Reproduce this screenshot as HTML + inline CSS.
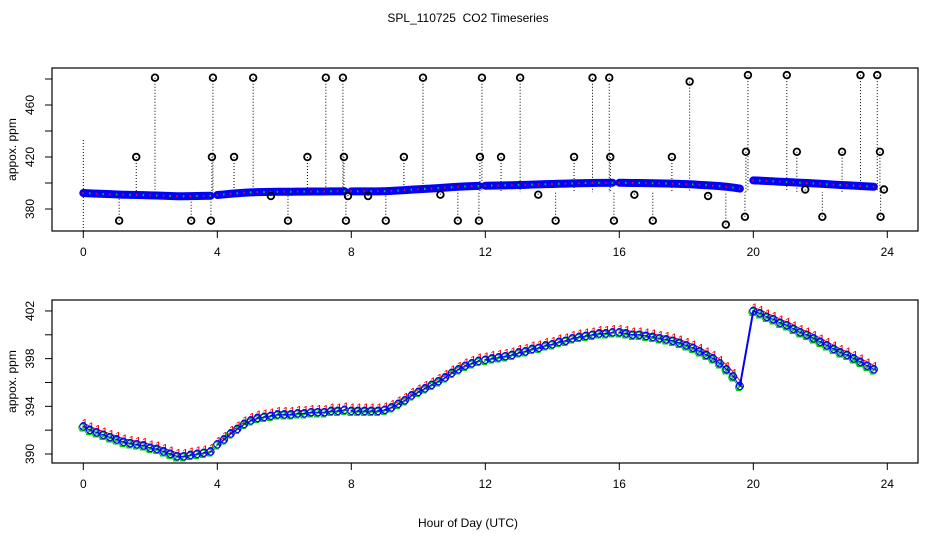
<!DOCTYPE html>
<html><head><meta charset="utf-8"><style>
body{margin:0;background:#fff;}
svg{display:block;font-family:"Liberation Sans",sans-serif;}
</style></head><body>
<svg id="chart" width="936" height="540" viewBox="0 0 936 540" xmlns="http://www.w3.org/2000/svg">
<rect width="936" height="540" fill="#fff"/>
<text x="468" y="22" font-size="12" text-anchor="middle" style="white-space:pre">SPL_110725  CO2 Timeseries</text>
<text x="468" y="527" font-size="12" text-anchor="middle">Hour of Day (UTC)</text>
<g id="topPanel"></g>
<g id="botPanel"></g>
</svg>
<script>
const segTimes = [
 [0,0.2,0.4,0.6,0.8,1,1.2,1.4,1.6,1.8,2,2.2,2.4,2.6,2.8,3,3.2,3.4,3.6,3.8],
 [4,4.2,4.4,4.6,4.8,5,5.2,5.4,5.6,5.8,6,6.2,6.4,6.6,6.8,7,7.2,7.4,7.6,7.8],
 [8,8.2,8.4,8.6,8.8,9,9.2,9.4,9.6,9.8,10,10.2,10.4,10.6,10.8,11,11.2,11.4,11.6,11.8],
 [12,12.2,12.4,12.6,12.8,13,13.2,13.4,13.6,13.8,14,14.2,14.4,14.6,14.8,15,15.2,15.4,15.6,15.8],
 [16,16.2,16.4,16.6,16.8,17,17.2,17.4,17.6,17.8,18,18.2,18.4,18.6,18.8,19,19.2,19.4,19.6],
 [20,20.2,20.4,20.6,20.8,21,21.2,21.4,21.6,21.8,22,22.2,22.4,22.6,22.8,23,23.2,23.4,23.6]
];
const segValues = [
 [392.3,392.0,391.8,391.6,391.4,391.2,391.0,390.9,390.8,390.7,390.5,390.4,390.2,390.0,389.8,389.8,389.9,390.0,390.1,390.2],
 [390.8,391.2,391.7,392.1,392.5,392.8,393.0,393.1,393.2,393.3,393.3,393.3,393.4,393.4,393.5,393.5,393.5,393.6,393.6,393.7],
 [393.6,393.6,393.6,393.6,393.6,393.7,393.9,394.2,394.5,394.9,395.2,395.5,395.8,396.1,396.4,396.8,397.1,397.4,397.6,397.8],
 [397.9,398.0,398.1,398.2,398.3,398.5,398.6,398.8,398.9,399.1,399.2,399.4,399.5,399.7,399.8,399.9,400.0,400.1,400.1,400.2],
 [400.2,400.1,400.0,400.0,399.9,399.8,399.7,399.6,399.5,399.3,399.1,398.9,398.6,398.3,398.0,397.6,397.1,396.5,395.7],
 [402.0,401.8,401.5,401.3,401.0,400.8,400.5,400.2,400.0,399.7,399.4,399.1,398.8,398.5,398.3,398.0,397.7,397.4,397.1]
];
const outlierTimes = [2.14,3.87,5.07,7.24,7.75,10.14,11.9,13.04,15.2,15.7,18.1,19.84,21.0,23.2,23.7,
 1.58,3.84,4.5,6.69,7.78,9.57,11.84,12.47,14.65,15.73,17.57,19.78,21.3,22.65,23.78,
 1.07,3.22,3.81,6.11,7.84,9.03,11.18,11.81,14.1,15.84,17.0,19.18,19.75,22.06,23.8,
 5.6,7.9,8.5,10.66,13.58,16.45,18.65,21.55,23.9];
const outlierValues = [481,481,481,481,481,481,481,481,481,481,478,483,483,483,483,
 420,420,420,420,420,420,420,420,420,420,420,424,424,424,424,
 371,371,371,371,371,371,371,371,371,371,371,368,374,374,374,
 390,390,390,391,391,391,390,395,395];
const xTicks = [0,4,8,12,16,20,24];
const topTicks = [380,400,420,440,460,480];
const topLabels = [380,420,460];
const botTicks = [390,392,394,396,398,400,402];
const botLabels = [390,394,398,402];

const NS="http://www.w3.org/2000/svg";
const X0=52,X1=918;
const xs=t=>83.3+t*33.5;
const yTop=v=>209-(v-380)*1.3;
const yBot=v=>454-(v-390)*11.92;
function mk(p,tag,a){const e=document.createElementNS(NS,tag);for(const k in a)e.setAttribute(k,a[k]);p.appendChild(e);return e;}

function axes(g,y0,y1,yf,ticks,labels,nm){
  let e=mk(g,'rect',{x:X0,y:y0,width:X1-X0,height:y1-y0,fill:'none',stroke:'#000','stroke-width':1.2});
  
  
  xTicks.forEach(t=>{
    let l=mk(g,'line',{x1:xs(t),x2:xs(t),y1:y1,y2:y1+7,stroke:'#000'});
    
    
    let tx=mk(g,'text',{x:xs(t),y:y1+25,'font-size':12,'text-anchor':'middle'});
    tx.textContent=t;
    
    
  });
  ticks.forEach(v=>{
    let l=mk(g,'line',{x1:X0-7,x2:X0,y1:yf(v),y2:yf(v),stroke:'#000'});
    
    
  });
  labels.forEach(v=>{
    let tx=mk(g,'text',{x:0,y:0,'font-size':12,'text-anchor':'middle',transform:`translate(34,${yf(v)}) rotate(-90)`});
    tx.textContent=v;
    
    
  });
  let yt=mk(g,'text',{x:0,y:0,'font-size':12,'text-anchor':'middle',transform:`translate(16,${(y0+y1)/2}) rotate(-90)`});
  yt.textContent='appox. ppm';
  
  
}

const topG=document.getElementById('topPanel'), botG=document.getElementById('botPanel');
axes(topG,68,231,yTop,topTicks,topLabels,'top');
axes(botG,300,463,yBot,botTicks,botLabels,'bottom');

let d0=mk(topG,'line',{x1:xs(0),x2:xs(0),y1:231,y2:138,stroke:'#000','stroke-dasharray':'1,2'});


outlierTimes.forEach((t,i)=>{
  const v=outlierValues[i];
  let l=mk(topG,'line',{x1:xs(t),x2:xs(t),y1:yTop(v),y2:yTop(393),stroke:'#000','stroke-dasharray':'1,2'});
  
  
});
segTimes.forEach((ts,s)=>{
  const pts=ts.map((t,i)=>xs(t)+','+yTop(segValues[s][i])).join(' ');
  let pl=mk(topG,'polyline',{points:pts,fill:'none',stroke:'#0000ff','stroke-width':8,'stroke-linecap':'round','stroke-linejoin':'round'});
  
  
  ts.forEach((t,i)=>{
    let r=mk(topG,'rect',{x:xs(t)-1,y:yTop(segValues[s][i])-1,width:1.5,height:2,fill:i%2?'#00cc00':'#ff0000'});
    
    
  });
});
outlierTimes.forEach((t,i)=>{
  let c=mk(topG,'circle',{cx:xs(t),cy:yTop(outlierValues[i]),r:3.3,fill:'none',stroke:'#000','stroke-width':1.8});
  
  
});

const series=[['1','#ff0000',1.5,-3],['2','#00cc00',-1,1],['3','#0000ff',0,0]];
segTimes.forEach((ts,s)=>{
  series.forEach(([ch,col,dx,dy])=>{
    const pts=ts.map((t,i)=>(xs(t)+dx)+','+(yBot(segValues[s][i])+dy)).join(' ');
    let pl=mk(botG,'polyline',{points:pts,fill:'none',stroke:col,'stroke-width':1});
    
    
    ts.forEach((t,i)=>{
      if(ch!=='1'){
        let c=mk(botG,'circle',{cx:xs(t)+dx,cy:yBot(segValues[s][i])+dy,r:3.5,fill:'none',stroke:col,'stroke-width':1});
        
        
      }
      let tx=mk(botG,'text',{x:xs(t)+dx,y:yBot(segValues[s][i])+dy+4,'font-size':12,'text-anchor':'middle',fill:col});
      tx.textContent=ch;
      
      
    });
  });
});
let link=mk(botG,'line',{x1:xs(19.6),y1:yBot(395.7),x2:xs(20),y2:yBot(402),stroke:'#0000ff','stroke-width':2});


</script>
</body></html>
